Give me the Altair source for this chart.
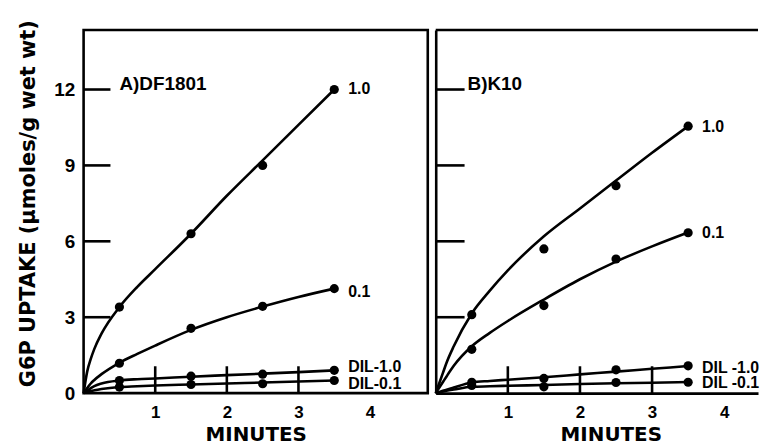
import altair as alt
import pandas as pd

# ---------------- data ----------------
POINT_X = [0.5, 1.5, 2.5, 3.5]
CURVE_X = [0, 0.05, 0.1, 0.15, 0.25, 0.5, 0.75, 1.0, 1.5, 2.0, 2.5, 3.0, 3.5]

SERIES_A = ["1.0", "0.1", "DIL-1.0", "DIL-0.1"]
SERIES_B = ["1.0", "0.1", "DIL -1.0", "DIL -0.1"]

# Panel A) DF1801 : measured points
A_PTS_10 = [3.4, 6.3, 9.0, 12.0]
A_PTS_01 = [1.18, 2.56, 3.43, 4.13]
A_PTS_DIL10 = [0.5, 0.67, 0.75, 0.9]
A_PTS_DIL01 = [0.24, 0.34, 0.37, 0.5]
# Panel A fitted curves
A_CRV_10 = [0, 0.85, 1.35, 1.75, 2.35, 3.4, 4.2, 4.9, 6.3, 7.8, 9.2, 10.6, 12.0]
A_CRV_01 = [0, 0.2, 0.38, 0.52, 0.75, 1.2, 1.55, 1.88, 2.5, 3.0, 3.42, 3.8, 4.13]
A_CRV_DIL10 = [0, 0.1, 0.2, 0.28, 0.38, 0.5, 0.55, 0.58, 0.65, 0.71, 0.77, 0.83, 0.9]
A_CRV_DIL01 = [0, 0.04, 0.08, 0.11, 0.16, 0.24, 0.27, 0.3, 0.34, 0.38, 0.42, 0.46, 0.5]

# Panel B) K10 : measured points
B_PTS_10 = [3.1, 5.7, 8.2, 10.55]
B_PTS_01 = [1.73, 3.46, 5.3, 6.34]
B_PTS_DIL10 = [0.43, 0.58, 0.92, 1.08]
B_PTS_DIL01 = [0.3, 0.25, 0.42, 0.43]
# Panel B fitted curves
B_CRV_10 = [0, 0.4, 0.8, 1.2, 1.85, 3.15, 4.05, 4.85, 6.2, 7.3, 8.4, 9.5, 10.55]
B_CRV_01 = [0, 0.22, 0.44, 0.66, 1.08, 1.85, 2.38, 2.85, 3.7, 4.5, 5.2, 5.8, 6.35]
B_CRV_DIL10 = [0, 0.04, 0.09, 0.13, 0.22, 0.42, 0.48, 0.53, 0.63, 0.74, 0.85, 0.96, 1.07]
B_CRV_DIL01 = [0, 0.03, 0.06, 0.09, 0.14, 0.25, 0.27, 0.29, 0.32, 0.36, 0.39, 0.41, 0.44]

X_TICKS = [1, 2, 3]
X_LABELS = [1, 2, 3, 4]
Y_TICKS = [3, 6, 9, 12]
Y_LABELS = [0, 3, 6, 9, 12]
Y_MAX = 14.35

TITLE_A = "A)DF1801"
TITLE_B = "B)K10"
Y_TITLE = "G6P UPTAKE (\u03bcmoles/g wet wt)"
X_TITLE = "MINUTES"

# ---------------- styles ----------------
NARROW = "Liberation Sans, Arial, sans-serif"
WIDE = "DejaVu Sans, sans-serif"
LW = 2.6
PLOT_H = 365
LABEL_DY_A = [0, 3, -3, 4]
LABEL_DY_B = [1, 0, 2, 1]


def frame(xs, series, cols):
    rows = []
    for name, vals in zip(series, cols):
        for x, y in zip(xs, vals):
            rows.append({"series": name, "x": x, "y": y})
    return pd.DataFrame(rows)


def panel(series, pts, crvs, label_dy, title, title_px, width, x_max, left, tick_len):
    xs = alt.Scale(domain=[0, x_max], nice=False, zero=False)
    ys = alt.Scale(domain=[0, Y_MAX], nice=False)
    if left:
        x_axis = alt.Axis(values=X_LABELS, title=X_TITLE, domain=False)
        y_axis = alt.Axis(values=Y_LABELS, title=Y_TITLE, domain=False,
                          titleY=174)
    else:
        x_axis = alt.Axis(values=X_LABELS, title=X_TITLE, domain=True,
                          titleX=176)
        y_axis = alt.Axis(values=Y_LABELS, title=None, domain=True,
                          labels=False)
    X = lambda: alt.X("x:Q", scale=xs, axis=x_axis)
    Y = lambda: alt.Y("y:Q", scale=ys, axis=y_axis)

    curve_df = frame(CURVE_X, series, crvs)
    pts_df = frame(POINT_X, series, pts)

    ytick = alt.Chart(pd.DataFrame({"y": Y_TICKS})).mark_rule(
        color="black", strokeWidth=LW).encode(
        y=Y(), x=alt.value(0), x2=alt.value(tick_len))
    xtick = alt.Chart(pd.DataFrame({"x": X_TICKS})).mark_rule(
        color="black", strokeWidth=LW).encode(
        x=X(), y=alt.value(PLOT_H), y2=alt.value(PLOT_H - 27))
    curves = alt.Chart(curve_df).mark_line(
        color="black", strokeWidth=LW, interpolate="monotone").encode(
        x=X(), y=Y(), detail="series:N")
    dots = alt.Chart(pts_df).mark_circle(
        color="black", size=85, opacity=1).encode(x=X(), y=Y())
    layers = [ytick, xtick, curves, dots]
    for name, vals, dy in zip(series, pts, label_dy):
        lab = pd.DataFrame({"x": [POINT_X[-1]], "y": [vals[-1]], "t": [name]})
        layers.append(alt.Chart(lab).mark_text(
            align="left", baseline="middle", dx=14, dy=dy, font=NARROW,
            fontSize=16, fontWeight="bold", color="black").encode(
            x=X(), y=Y(), text="t:N"))
    layers.append(alt.Chart(pd.DataFrame({"t": [title]})).mark_text(
        align="left", baseline="alphabetic", font=NARROW, fontSize=19,
        fontWeight="bold", color="black").encode(
        x=alt.value(title_px), y=alt.value(60), text="t:N"))
    if not left:
        layers.append(alt.Chart(pd.DataFrame({"a": [0]})).mark_rule(
            color="black", strokeWidth=LW).encode(y=alt.datum(Y_MAX)))
    view = (alt.ViewBackground(stroke="black", strokeWidth=LW) if left
            else alt.ViewBackground(strokeWidth=0))
    return alt.layer(*layers).properties(width=width, height=PLOT_H, view=view)


left = panel(SERIES_A, [A_PTS_10, A_PTS_01, A_PTS_DIL10, A_PTS_DIL01],
             [A_CRV_10, A_CRV_01, A_CRV_DIL10, A_CRV_DIL01],
             LABEL_DY_A, TITLE_A, 36, 346, 346 / 72.0, True, 27)
right = panel(SERIES_B, [B_PTS_10, B_PTS_01, B_PTS_DIL10, B_PTS_DIL01],
              [B_CRV_10, B_CRV_01, B_CRV_DIL10, B_CRV_DIL01],
              LABEL_DY_B, TITLE_B, 32, 324, 324 / 72.5, False, 29)

chart = alt.hconcat(left, right, spacing=0).properties(
    padding={"left": 8, "top": 9, "right": 0, "bottom": 0}
).configure_view(stroke=None).configure_axis(
    grid=False, ticks=False, labelColor="black", titleColor="black",
    domainColor="black", domainWidth=LW,
    labelFont=NARROW, labelFontWeight="bold",
    titleFont=WIDE, titleFontWeight="bold",
).configure_axisX(
    labelFontSize=17, labelPadding=12, titleFontSize=20, titlePadding=4,
).configure_axisY(
    labelFontSize=19, labelPadding=9, titleFontSize=21, titlePadding=15,
)

chart.save("out.html", embed_options={"renderer": "svg", "actions": False})
